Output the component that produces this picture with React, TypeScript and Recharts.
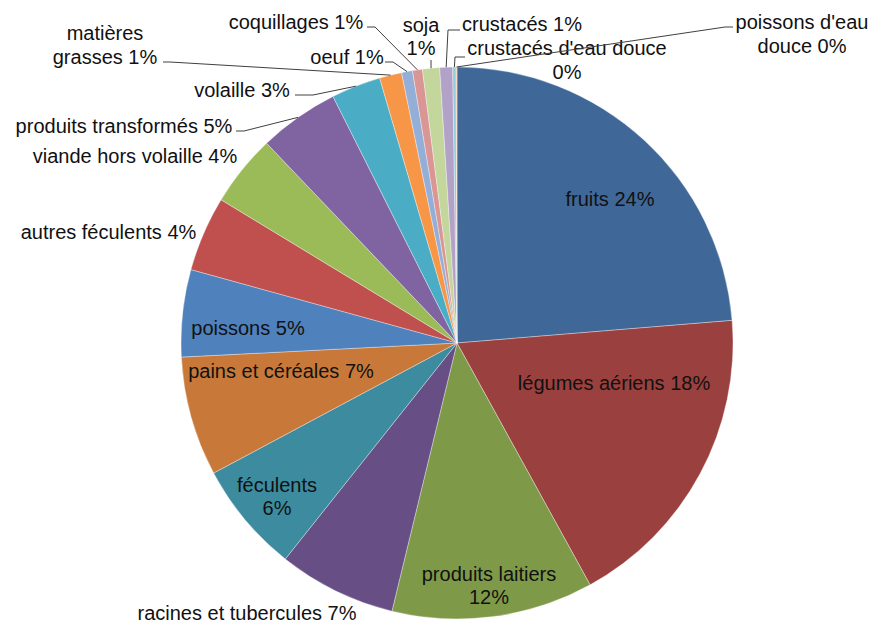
import React from "react";
import { PieChart, Pie, Cell } from "recharts";

const categories = [
  "fruits",
  "légumes aériens",
  "produits laitiers",
  "racines et tubercules",
  "féculents",
  "pains et céréales",
  "poissons",
  "autres féculents",
  "viande hors volaille",
  "produits transformés",
  "volaille",
  "matières grasses",
  "oeuf",
  "coquillages",
  "soja",
  "crustacés",
  "crustacés d'eau douce",
  "poissons d'eau douce",
];

const shares = [23.7, 18.3, 11.8, 6.9, 6.5, 7.0, 5.1, 4.4, 4.2, 4.7, 2.9, 1.3, 0.64, 0.58, 1.0, 0.75, 0.2, 0.05];

const percentLabels = ["24%", "18%", "12%", "7%", "6%", "7%", "5%", "4%", "4%", "5%", "3%", "1%", "1%", "1%", "1%", "1%", "0%", "0%"];

const colors = [
  "#3F6898", "#9A403E", "#7E9A48", "#674F86", "#3C8B9F", "#C8793A",
  "#4F81BD", "#C0504D", "#9BBB59", "#8064A2", "#4BACC6", "#F79646",
  "#93AFD8", "#D99694", "#C3D69B", "#B3A2C7", "#93CDDD", "#FAC090",
];

const data = categories.map((name, i) => ({ name, value: shares[i], pct: percentLabels[i] }));

// Label layout: text lines, text centre offset from pie centre, leader points (offsets from pie centre)
type Layout = { lines: string[]; dx: number; dy: number; leader?: [number, number][] };
const labelLayout: Layout[] = [
  { lines: ["fruits 24%"], dx: 153, dy: -144 },
  { lines: ["légumes aériens 18%"], dx: 157, dy: 40 },
  { lines: ["produits laitiers", "12%"], dx: 32, dy: 242.5 },
  { lines: ["racines et tubercules 7%"], dx: -210, dy: 270 },
  { lines: ["féculents", "6%"], dx: -180, dy: 153.5 },
  { lines: ["pains et céréales 7%"], dx: -176, dy: 28 },
  { lines: ["poissons 5%"], dx: -209, dy: -15 },
  { lines: ["autres féculents 4%"], dx: -348.5, dy: -111 },
  { lines: ["viande hors volaille 4%"], dx: -322, dy: -187 },
  { lines: ["produits transformés 5%"], dx: -333, dy: -217, leader: [[-221, -212], [-213, -212]] },
  { lines: ["volaille 3%"], dx: -215, dy: -253, leader: [[-162, -248], [-144, -248]] },
  { lines: ["matières", "grasses 1%"], dx: -352, dy: -298, leader: [[-294, -281], [-287, -281]] },
  { lines: ["oeuf 1%"], dx: -110, dy: -286, leader: [[-72, -281], [-64, -281]] },
  { lines: ["coquillages 1%"], dx: -161, dy: -321, leader: [[-90, -316], [-82, -316]] },
  { lines: ["soja", "1%"], dx: -36, dy: -306.5, leader: [[-26, -283]] },
  { lines: ["crustacés 1%"], dx: 65, dy: -319, leader: [[3, -313], [-9, -313]] },
  { lines: ["crustacés d'eau douce", "0%"], dx: 110, dy: -283, leader: [[8, -286], [-2, -286]] },
  { lines: ["poissons d'eau", "douce 0%"], dx: 345, dy: -309, leader: [[276, -316], [268, -316]] },
];

const RAD = Math.PI / 180;
const LINE_H = 23.5;

const renderLabel = (props: any) => {
  const { cx, cy, midAngle, outerRadius, index } = props;
  const lay = labelLayout[index];
  if (!lay) return null;
  const ex = cx + outerRadius * Math.cos(-midAngle * RAD);
  const ey = cy + outerRadius * Math.sin(-midAngle * RAD);
  const tx = cx + lay.dx;
  const ty = cy + lay.dy;
  const n = lay.lines.length;
  const startY = ty - ((n - 1) * LINE_H) / 2;
  let leader: React.ReactNode = null;
  if (lay.leader) {
    const pts = lay.leader.map(([x, y]) => `${cx + x},${cy + y}`).concat(`${ex},${ey}`).join(" ");
    leader = <polyline points={pts} fill="none" stroke="#404040" strokeWidth={1} />;
  }
  return (
    <g key={`lbl-${index}`}>
      {leader}
      <text
        x={tx}
        y={startY}
        textAnchor="middle"
        dominantBaseline="central"
        fontFamily="'Liberation Sans', Arial, sans-serif"
        fontSize={20}
        fill="#111"
      >
        {lay.lines.map((l, i) => (
          <tspan key={i} x={tx} dy={i === 0 ? 0 : LINE_H}>
            {l}
          </tspan>
        ))}
      </text>
    </g>
  );
};

export default function App() {
  return (
    <div style={{ position: "absolute", left: 0, top: 0, width: 871, height: 626, background: "#fff" }}>
      <PieChart width={871} height={626} margin={{ top: 0, right: 0, bottom: 0, left: 0 }}>
        <Pie
          data={data}
          dataKey="value"
          nameKey="name"
          cx={457}
          cy={343}
          outerRadius={276}
          startAngle={90}
          endAngle={-270}
          stroke="rgba(255,255,255,0.45)"
          strokeWidth={0.75}
          label={renderLabel}
          labelLine={false}
          isAnimationActive={false}
        >
          {data.map((d, i) => (
            <Cell key={d.name} fill={colors[i]} />
          ))}
        </Pie>
      </PieChart>
    </div>
  );
}
